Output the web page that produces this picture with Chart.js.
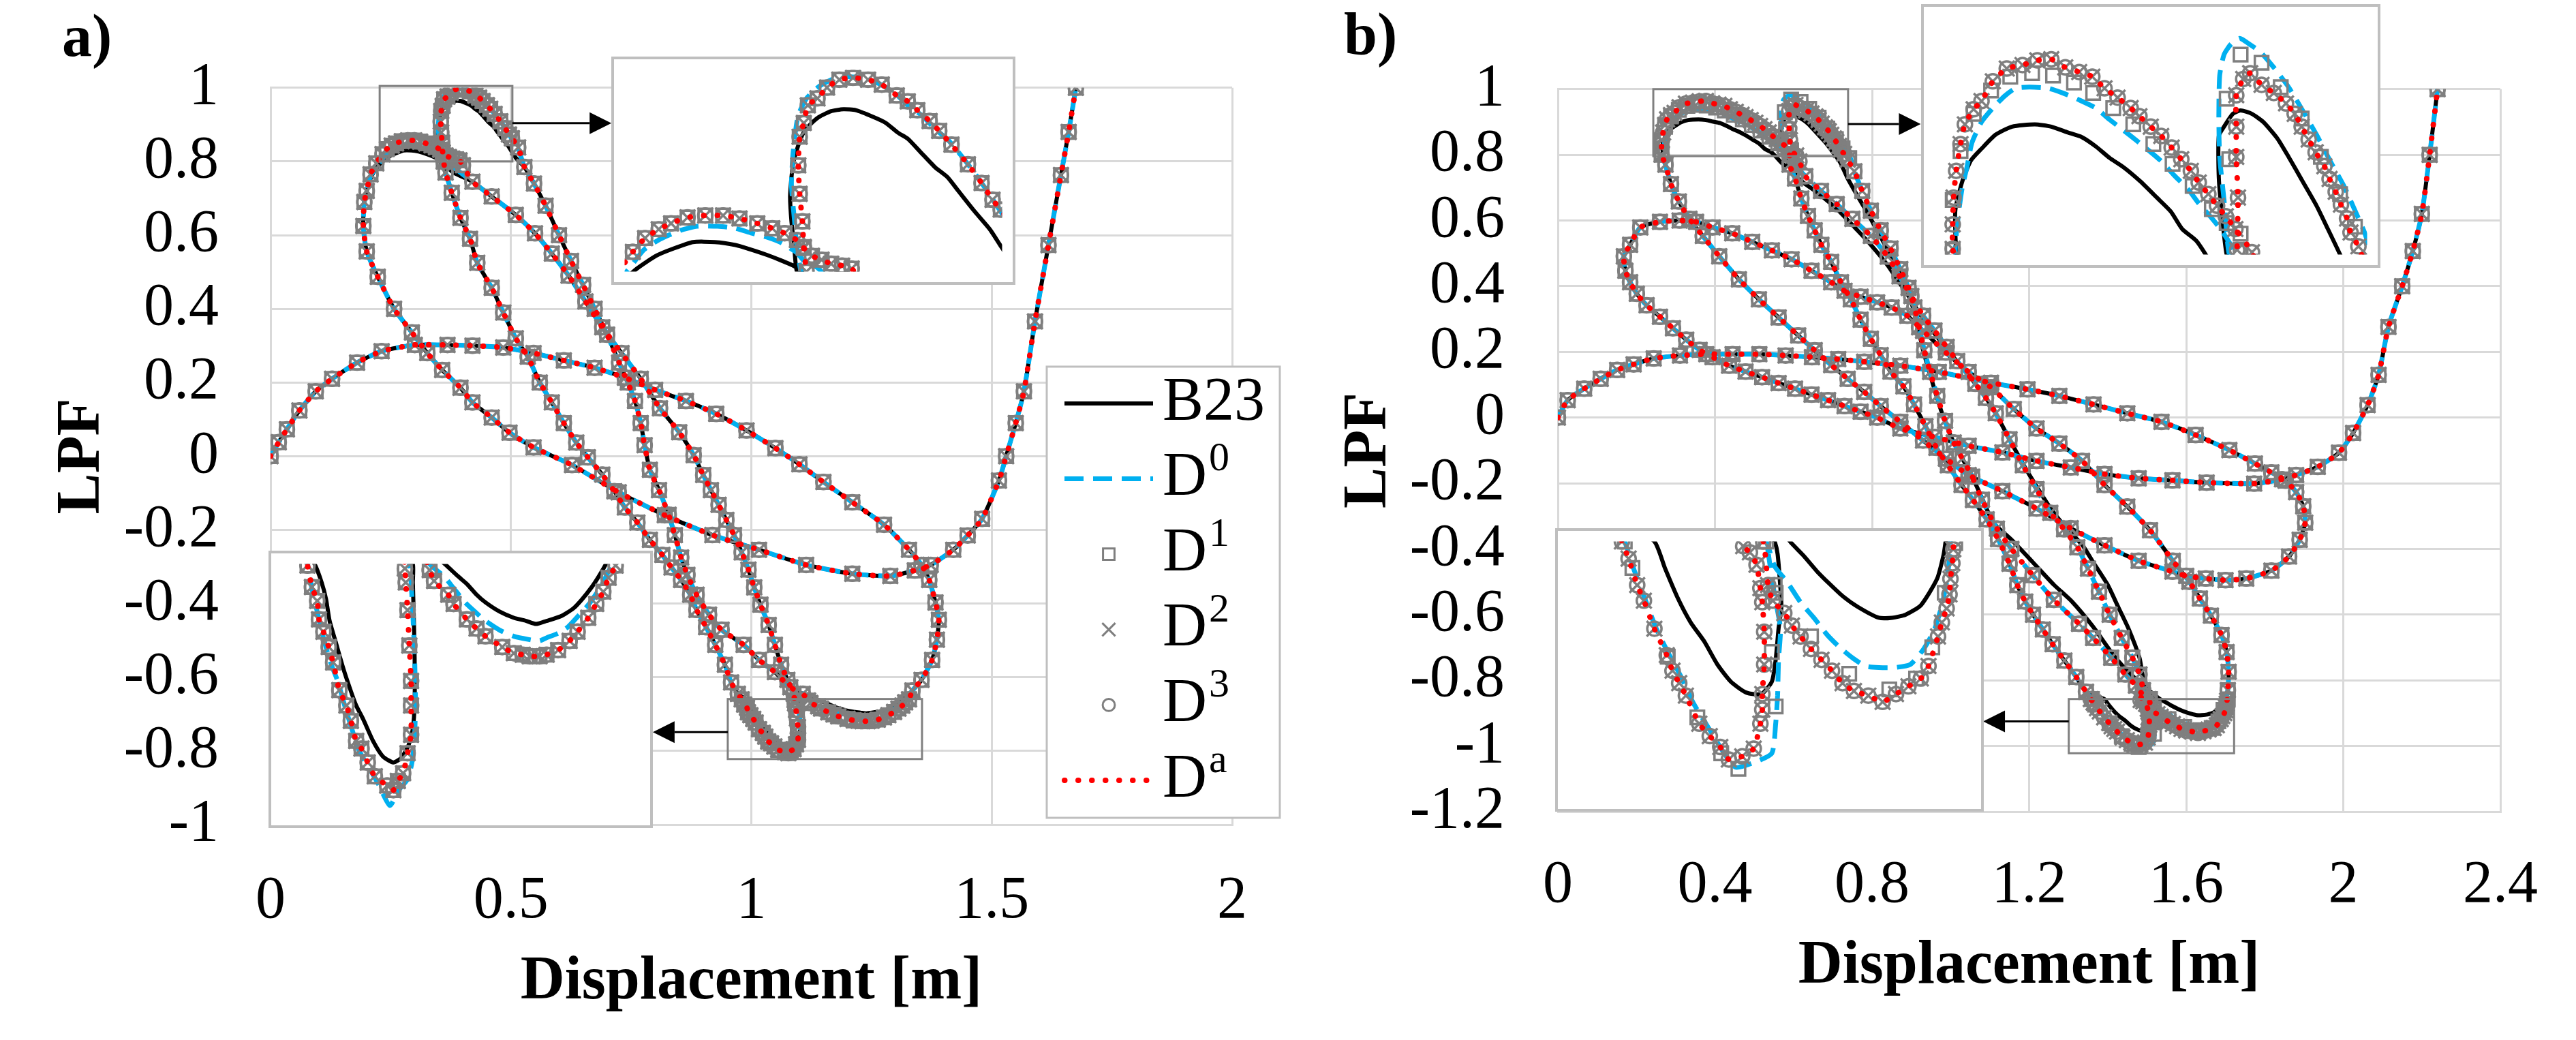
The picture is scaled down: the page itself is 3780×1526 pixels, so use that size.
<!DOCTYPE html>
<html>
<head>
<meta charset="utf-8">
<title>LPF - displacement</title>
<script src="https://cdn.jsdelivr.net/npm/chart.js@4.4.1/dist/chart.umd.min.js"></script>
<style>
  html, body { margin: 0; padding: 0; background: #fff; }
  #page { position: relative; width: 3780px; height: 1526px; overflow: hidden; background: #fff; }
  canvas { position: absolute; }
</style>
</head>
<body>
<div id="page">
  <canvas id="mainA" width="1890" height="1526" style="left:0;top:0"></canvas>
  <canvas id="mainB" width="1890" height="1526" style="left:1890px;top:0"></canvas>
  <canvas id="insetA1" width="593" height="335" style="left:897px;top:83px"></canvas>
  <canvas id="insetA2" width="564" height="407" style="left:394px;top:808px"></canvas>
  <canvas id="insetB1" width="674" height="387" style="left:2819px;top:6px"></canvas>
  <canvas id="insetB2" width="629" height="416" style="left:2282px;top:775px"></canvas>
</div>
<script>
// ---- tick labels ----
const aXTicks = ['0', '0.5', '1', '1.5', '2'];
const aYTicks = ['-1', '-0.8', '-0.6', '-0.4', '-0.2', '0', '0.2', '0.4', '0.6', '0.8', '1'];
const bXTicks = ['0', '0.4', '0.8', '1.2', '1.6', '2', '2.4'];
const bYTicks = ['-1.2', '-1', '-0.8', '-0.6', '-0.4', '-0.2', '0', '0.2', '0.4', '0.6', '0.8', '1'];

// ---- panel a) path pieces [displacement, LPF], in path order ----
// shared by all series
const aRise = [[0,0],[0.017,0.038],[0.034,0.073],[0.06,0.124],[0.094,0.176],[0.128,0.21],[0.18,0.254],[0.231,0.285],[0.3,0.302],[0.368,0.302],[0.42,0.3],[0.484,0.295],[0.547,0.28],[0.61,0.26],[0.674,0.24],[0.737,0.213],[0.8,0.18],[0.864,0.15],[0.927,0.115],[0.99,0.07],[1.05,0.022],[1.1,-0.022],[1.15,-0.07],[1.21,-0.125],[1.276,-0.186],[1.328,-0.254],[1.354,-0.295],[1.37,-0.336],[1.383,-0.397],[1.39,-0.444],[1.386,-0.498],[1.376,-0.553],[1.354,-0.607],[1.335,-0.636]];
const aClimb = [[1.107,-0.645],[1.081,-0.627],[1.049,-0.586],[1.016,-0.553],[0.984,-0.512],[0.938,-0.471],[0.912,-0.43],[0.886,-0.376],[0.867,-0.322],[0.854,-0.275],[0.841,-0.214],[0.828,-0.159],[0.808,-0.092],[0.789,-0.037],[0.778,0.03],[0.77,0.09],[0.758,0.15],[0.743,0.2],[0.725,0.254],[0.7,0.33],[0.674,0.4],[0.65,0.465],[0.625,0.53],[0.6,0.6],[0.572,0.68],[0.548,0.74],[0.528,0.785]];
const aDrop = [[0.364,0.77],[0.377,0.715],[0.395,0.647],[0.415,0.59],[0.43,0.525],[0.46,0.457],[0.484,0.39],[0.51,0.32],[0.535,0.27],[0.56,0.2],[0.585,0.146],[0.61,0.09],[0.636,0.037],[0.66,-0.003],[0.69,-0.05],[0.715,-0.095],[0.737,-0.139],[0.763,-0.18],[0.789,-0.227],[0.815,-0.268],[0.834,-0.302],[0.854,-0.336],[0.873,-0.376],[0.886,-0.417],[0.906,-0.464],[0.925,-0.512],[0.945,-0.566],[0.958,-0.614],[0.972,-0.645]];
const aBack = [[1.088,-0.645],[1.075,-0.607],[1.062,-0.566],[1.049,-0.512],[1.036,-0.458],[1.019,-0.403],[1.006,-0.356],[0.994,-0.308],[0.98,-0.261],[0.964,-0.214],[0.948,-0.173],[0.932,-0.132],[0.916,-0.092],[0.9,-0.051],[0.88,0.003],[0.85,0.065],[0.81,0.13],[0.77,0.21],[0.73,0.28],[0.69,0.35],[0.655,0.42],[0.62,0.49],[0.585,0.55],[0.55,0.605],[0.51,0.655],[0.46,0.705],[0.42,0.745]];
const aTail = [[0.2,0.72],[0.195,0.69],[0.193,0.625],[0.2,0.556],[0.223,0.487],[0.257,0.4],[0.294,0.336],[0.326,0.28],[0.357,0.234],[0.395,0.186],[0.42,0.146],[0.46,0.105],[0.497,0.064],[0.547,0.024],[0.627,-0.024],[0.724,-0.098],[0.82,-0.16],[0.919,-0.214],[1.016,-0.254],[1.114,-0.295],[1.21,-0.319],[1.289,-0.325],[1.34,-0.31],[1.373,-0.295],[1.42,-0.254],[1.45,-0.215],[1.48,-0.17],[1.515,-0.066],[1.53,0],[1.55,0.09],[1.567,0.176],[1.59,0.366],[1.618,0.573],[1.644,0.763],[1.66,0.88],[1.675,1]];
// trough near 1.23 / -0.7
const aUB23 = [[1.317,-0.659],[1.309,-0.667],[1.301,-0.674],[1.29,-0.682],[1.28,-0.688],[1.266,-0.693],[1.25,-0.696],[1.238,-0.698],[1.227,-0.696],[1.213,-0.694],[1.197,-0.69],[1.181,-0.684],[1.171,-0.679],[1.16,-0.672],[1.15,-0.667],[1.135,-0.659]];
const aUD0 = [[1.324,-0.659],[1.319,-0.665],[1.311,-0.674],[1.298,-0.685],[1.287,-0.692],[1.274,-0.7],[1.263,-0.704],[1.25,-0.707],[1.242,-0.709],[1.229,-0.708],[1.213,-0.706],[1.197,-0.702],[1.181,-0.696],[1.171,-0.691],[1.158,-0.684],[1.144,-0.674],[1.134,-0.667],[1.118,-0.659]];
const aUDm = [[1.328,-0.66],[1.32,-0.668],[1.314,-0.677],[1.306,-0.685],[1.297,-0.694],[1.285,-0.703],[1.276,-0.709],[1.263,-0.715],[1.25,-0.718],[1.242,-0.719],[1.231,-0.719],[1.223,-0.718],[1.213,-0.717],[1.2,-0.713],[1.181,-0.706],[1.171,-0.701],[1.16,-0.695],[1.145,-0.685],[1.139,-0.679],[1.123,-0.67],[1.118,-0.663]];
// peak near 0.39 / 0.98
const aPkB23 = [[0.51,0.81],[0.502,0.826],[0.494,0.843],[0.483,0.861],[0.471,0.882],[0.463,0.896],[0.454,0.906],[0.443,0.922],[0.434,0.935],[0.427,0.941],[0.418,0.951],[0.409,0.957],[0.396,0.964],[0.387,0.965],[0.378,0.963],[0.369,0.957],[0.361,0.947],[0.357,0.939],[0.353,0.924],[0.35,0.908],[0.348,0.877],[0.349,0.851],[0.351,0.826],[0.353,0.8]];
const aPkD0 = [[0.515,0.835],[0.502,0.861],[0.492,0.882],[0.483,0.9],[0.473,0.918],[0.464,0.933],[0.454,0.945],[0.444,0.959],[0.434,0.969],[0.424,0.982],[0.413,0.991],[0.4,0.997],[0.389,0.998],[0.38,0.996],[0.369,0.988],[0.36,0.976],[0.354,0.959],[0.352,0.943],[0.35,0.918],[0.349,0.888],[0.351,0.855],[0.353,0.825],[0.356,0.8]];
const aPkDm = [[0.515,0.838],[0.502,0.863],[0.496,0.873],[0.488,0.89],[0.478,0.909],[0.466,0.929],[0.457,0.943],[0.45,0.953],[0.441,0.964],[0.434,0.973],[0.426,0.979],[0.415,0.99],[0.405,0.995],[0.394,0.997],[0.384,0.995],[0.375,0.987],[0.368,0.976],[0.361,0.969],[0.358,0.951],[0.355,0.937],[0.354,0.908],[0.355,0.879],[0.357,0.851],[0.358,0.825],[0.36,0.8]];
// trough near 1.07 / -0.8
const aVB23 = [[0.988,-0.659],[0.996,-0.671],[1.001,-0.682],[1.005,-0.696],[1.012,-0.71],[1.02,-0.726],[1.028,-0.74],[1.035,-0.751],[1.043,-0.76],[1.054,-0.774],[1.065,-0.784],[1.077,-0.788],[1.086,-0.785],[1.094,-0.777],[1.099,-0.766],[1.101,-0.749],[1.101,-0.72],[1.1,-0.692],[1.099,-0.671],[1.099,-0.659]];
const aVD0 = [[0.98,-0.659],[0.985,-0.675],[0.991,-0.69],[0.998,-0.707],[1.006,-0.723],[1.014,-0.735],[1.022,-0.751],[1.03,-0.766],[1.038,-0.78],[1.049,-0.791],[1.06,-0.802],[1.073,-0.816],[1.083,-0.806],[1.093,-0.799],[1.098,-0.788],[1.101,-0.77],[1.102,-0.749],[1.101,-0.72],[1.099,-0.692],[1.097,-0.671],[1.095,-0.659]];
const aVDm = [[0.98,-0.66],[0.985,-0.674],[0.991,-0.683],[0.993,-0.695],[0.998,-0.703],[1.004,-0.713],[1.009,-0.723],[1.016,-0.741],[1.024,-0.751],[1.029,-0.761],[1.035,-0.774],[1.041,-0.779],[1.048,-0.788],[1.056,-0.797],[1.07,-0.803],[1.077,-0.806],[1.082,-0.8],[1.088,-0.795],[1.093,-0.782],[1.097,-0.77],[1.097,-0.751],[1.097,-0.735],[1.095,-0.712],[1.093,-0.689],[1.091,-0.671],[1.09,-0.662]];
// bump near 0.29 / 0.85
const aBumpB23 = [[0.38,0.77],[0.353,0.804],[0.342,0.811],[0.331,0.817],[0.318,0.823],[0.308,0.827],[0.293,0.83],[0.277,0.83],[0.262,0.823],[0.25,0.816],[0.236,0.803],[0.222,0.785],[0.21,0.76]];
const aBumpD0 = [[0.385,0.78],[0.368,0.804],[0.36,0.808],[0.353,0.819],[0.342,0.829],[0.331,0.835],[0.32,0.839],[0.308,0.844],[0.295,0.846],[0.28,0.846],[0.268,0.842],[0.253,0.833],[0.241,0.822],[0.232,0.806],[0.22,0.785],[0.208,0.76]];
const aBumpDm = [[0.4,0.79],[0.393,0.803],[0.386,0.806],[0.378,0.808],[0.371,0.812],[0.364,0.816],[0.358,0.824],[0.353,0.832],[0.344,0.839],[0.335,0.844],[0.324,0.849],[0.311,0.854],[0.299,0.857],[0.286,0.857],[0.273,0.855],[0.261,0.849],[0.252,0.843],[0.242,0.834],[0.233,0.82],[0.22,0.795],[0.208,0.765]];

// ---- panel b) path pieces ----
const bOut = [[0,0],[0.025,0.053],[0.067,0.088],[0.109,0.118],[0.151,0.145],[0.193,0.162],[0.244,0.18],[0.311,0.189],[0.378,0.193],[0.445,0.193],[0.513,0.193],[0.58,0.189],[0.647,0.184],[0.714,0.178],[0.78,0.17],[0.872,0.158],[0.97,0.139],[1.103,0.106],[1.196,0.086],[1.277,0.066],[1.364,0.04],[1.45,0.013],[1.537,-0.013],[1.624,-0.053],[1.71,-0.099],[1.775,-0.14],[1.817,-0.167],[1.853,-0.192],[1.88,-0.227],[1.898,-0.27],[1.903,-0.32],[1.889,-0.372],[1.862,-0.423],[1.817,-0.466],[1.753,-0.49],[1.7,-0.495],[1.65,-0.49],[1.6,-0.482],[1.565,-0.469],[1.479,-0.436],[1.392,-0.389],[1.306,-0.337],[1.219,-0.277],[1.132,-0.224],[1.046,-0.175],[0.988,-0.125],[0.93,-0.07],[0.872,-0.013],[0.822,0.035],[0.78,0.078],[0.738,0.118],[0.696,0.16],[0.654,0.205],[0.612,0.25],[0.562,0.305],[0.512,0.36],[0.461,0.421],[0.411,0.491],[0.369,0.553],[0.335,0.605],[0.308,0.658],[0.288,0.711],[0.274,0.77]];
const bDown = [[0.63,0.735],[0.67,0.69],[0.71,0.65],[0.75,0.605],[0.797,0.553],[0.84,0.49],[0.87,0.43],[0.9,0.37],[0.93,0.31],[0.959,0.265],[0.99,0.215],[1.017,0.172],[1.063,0.103],[1.09,0.06],[1.115,0.013],[1.15,-0.066],[1.184,-0.145],[1.219,-0.218],[1.254,-0.29],[1.289,-0.34],[1.323,-0.395],[1.35,-0.46],[1.378,-0.53],[1.405,-0.6],[1.436,-0.671],[1.463,-0.731],[1.481,-0.782],[1.49,-0.83]];
const bDownB23 = [[0.6,0.76],[0.612,0.728],[0.662,0.684],[0.713,0.632],[0.763,0.57],[0.797,0.526],[0.839,0.465],[0.864,0.421],[0.893,0.37],[0.925,0.31],[0.955,0.262],[0.99,0.21],[1.017,0.17],[1.063,0.103],[1.09,0.06],[1.115,0.013],[1.15,-0.066],[1.184,-0.14],[1.219,-0.21],[1.254,-0.275],[1.29,-0.33],[1.336,-0.389],[1.363,-0.44],[1.4,-0.509],[1.427,-0.577],[1.454,-0.645],[1.481,-0.731],[1.49,-0.79],[1.5,-0.83]];
const bUp = [[1.345,-0.835],[1.32,-0.79],[1.29,-0.74],[1.26,-0.69],[1.235,-0.645],[1.21,-0.6],[1.19,-0.56],[1.17,-0.51],[1.15,-0.445],[1.121,-0.37],[1.092,-0.31],[1.057,-0.251],[1.028,-0.205],[0.993,-0.145],[0.964,-0.092],[0.936,-0.026],[0.907,0.04],[0.88,0.095],[0.847,0.14],[0.822,0.19],[0.797,0.24],[0.771,0.298],[0.746,0.36],[0.721,0.412],[0.696,0.474],[0.671,0.526],[0.654,0.57],[0.637,0.614],[0.62,0.667],[0.604,0.728],[0.59,0.77]];
const bFall = [[0.755,0.75],[0.775,0.69],[0.797,0.63],[0.822,0.57],[0.847,0.515],[0.872,0.452],[0.893,0.395],[0.908,0.335],[0.92,0.275],[0.933,0.205],[0.948,0.139],[0.966,0.066],[0.986,-0.01],[1.008,-0.076],[1.03,-0.125],[1.055,-0.18],[1.08,-0.25],[1.118,-0.338],[1.155,-0.4],[1.209,-0.48],[1.263,-0.555],[1.327,-0.628],[1.363,-0.671],[1.409,-0.731],[1.445,-0.782],[1.472,-0.816],[1.49,-0.845]];
const bFallB23 = [[0.738,0.728],[0.763,0.675],[0.79,0.62],[0.815,0.565],[0.84,0.51],[0.865,0.452],[0.888,0.395],[0.904,0.335],[0.917,0.275],[0.93,0.205],[0.946,0.139],[0.964,0.066],[0.985,-0.01],[1.008,-0.076],[1.03,-0.125],[1.055,-0.18],[1.08,-0.245],[1.109,-0.32],[1.155,-0.372],[1.209,-0.44],[1.263,-0.509],[1.309,-0.56],[1.363,-0.637],[1.409,-0.714],[1.445,-0.765],[1.49,-0.816],[1.52,-0.845]];
const bTail = [[1.706,-0.83],[1.708,-0.774],[1.703,-0.714],[1.69,-0.662],[1.663,-0.603],[1.635,-0.551],[1.608,-0.5],[1.566,-0.436],[1.508,-0.343],[1.45,-0.271],[1.392,-0.205],[1.335,-0.132],[1.277,-0.079],[1.219,-0.033],[1.161,0.026],[1.103,0.092],[1.046,0.139],[0.988,0.198],[0.93,0.264],[0.89,0.31],[0.85,0.335],[0.813,0.351],[0.771,0.368],[0.73,0.386],[0.696,0.412],[0.646,0.447],[0.595,0.482],[0.545,0.509],[0.495,0.535],[0.444,0.561],[0.394,0.579],[0.352,0.596],[0.31,0.6],[0.26,0.596],[0.21,0.579],[0.184,0.526],[0.168,0.491],[0.172,0.447],[0.184,0.412],[0.201,0.377],[0.226,0.342],[0.26,0.307],[0.293,0.272],[0.327,0.237],[0.361,0.206],[0.394,0.184],[0.436,0.158],[0.478,0.14],[0.52,0.123],[0.562,0.105],[0.604,0.088],[0.646,0.07],[0.688,0.053],[0.73,0.035],[0.771,0.018],[0.813,0],[0.872,-0.033],[0.959,-0.059],[1.046,-0.086],[1.132,-0.106],[1.219,-0.132],[1.306,-0.152],[1.392,-0.172],[1.479,-0.185],[1.565,-0.191],[1.652,-0.198],[1.773,-0.201],[1.844,-0.188],[1.88,-0.175],[1.935,-0.15],[1.989,-0.107],[2.025,-0.047],[2.062,0.038],[2.09,0.13],[2.115,0.276],[2.15,0.4],[2.177,0.507],[2.2,0.62],[2.22,0.8],[2.24,1]];
// bump near 0.36 / 0.95
const bBumpB23 = [[0.268,0.8],[0.267,0.834],[0.275,0.859],[0.285,0.877],[0.297,0.887],[0.313,0.899],[0.332,0.906],[0.358,0.908],[0.377,0.906],[0.396,0.901],[0.412,0.897],[0.428,0.889],[0.444,0.879],[0.46,0.871],[0.479,0.859],[0.498,0.845],[0.514,0.833],[0.527,0.818],[0.543,0.808],[0.554,0.796],[0.575,0.77]];
const bBumpD0 = [[0.267,0.799],[0.27,0.827],[0.275,0.854],[0.28,0.87],[0.286,0.892],[0.297,0.91],[0.31,0.922],[0.323,0.932],[0.336,0.939],[0.352,0.94],[0.374,0.939],[0.39,0.935],[0.409,0.929],[0.428,0.922],[0.444,0.912],[0.463,0.901],[0.483,0.889],[0.502,0.877],[0.518,0.864],[0.534,0.852],[0.546,0.84],[0.559,0.829],[0.572,0.817],[0.585,0.801],[0.595,0.78]];
const bBumpD1 = [[0.264,0.8],[0.264,0.843],[0.273,0.885],[0.288,0.917],[0.308,0.937],[0.33,0.949],[0.355,0.952],[0.379,0.95],[0.403,0.944],[0.425,0.935],[0.448,0.922],[0.471,0.908],[0.494,0.891],[0.516,0.874],[0.539,0.855],[0.561,0.835],[0.578,0.823],[0.594,0.814],[0.605,0.79]];
const bBumpDm = [[0.264,0.801],[0.264,0.822],[0.265,0.845],[0.268,0.868],[0.273,0.891],[0.278,0.908],[0.288,0.921],[0.297,0.928],[0.31,0.945],[0.326,0.956],[0.344,0.959],[0.361,0.963],[0.377,0.964],[0.393,0.957],[0.409,0.953],[0.424,0.949],[0.438,0.939],[0.453,0.931],[0.468,0.922],[0.478,0.915],[0.491,0.906],[0.503,0.898],[0.515,0.888],[0.526,0.878],[0.537,0.868],[0.546,0.858],[0.557,0.848],[0.567,0.838],[0.577,0.829],[0.588,0.818],[0.607,0.798],[0.615,0.78]];
// trough near 1.47 / -1.0
const bVB23 = [[1.517,-0.857],[1.52,-0.865],[1.522,-0.879],[1.524,-0.899],[1.521,-0.913],[1.518,-0.933],[1.514,-0.947],[1.503,-0.955],[1.487,-0.954],[1.471,-0.947],[1.457,-0.936],[1.443,-0.921],[1.429,-0.909],[1.416,-0.894],[1.402,-0.874],[1.391,-0.857]];
const bVD0 = [[1.508,-0.857],[1.512,-0.872],[1.517,-0.892],[1.523,-0.913],[1.521,-0.933],[1.52,-0.956],[1.518,-0.974],[1.514,-0.993],[1.495,-0.999],[1.476,-1.002],[1.462,-0.991],[1.449,-0.978],[1.432,-0.961],[1.419,-0.944],[1.405,-0.928],[1.393,-0.913],[1.38,-0.892],[1.369,-0.874],[1.36,-0.857]];
const bVD1 = [[1.505,-0.857],[1.517,-0.885],[1.514,-0.928],[1.518,-0.963],[1.479,-1.003],[1.461,-0.993],[1.436,-0.97],[1.405,-0.931],[1.368,-0.874],[1.36,-0.857]];
const bVDm = [[1.484,-0.86],[1.491,-0.864],[1.498,-0.872],[1.502,-0.887],[1.504,-0.896],[1.506,-0.915],[1.506,-0.936],[1.504,-0.955],[1.504,-0.965],[1.502,-0.974],[1.495,-0.99],[1.483,-0.995],[1.469,-0.997],[1.46,-0.989],[1.449,-0.982],[1.438,-0.974],[1.424,-0.956],[1.417,-0.948],[1.41,-0.94],[1.404,-0.93],[1.391,-0.913],[1.38,-0.895],[1.373,-0.885],[1.364,-0.868],[1.357,-0.857]];
// peak near 0.6 / 0.97
const bPkB23 = [[0.578,0.796],[0.573,0.827],[0.569,0.862],[0.569,0.898],[0.575,0.906],[0.585,0.917],[0.594,0.92],[0.607,0.917],[0.62,0.91],[0.636,0.896],[0.649,0.88],[0.665,0.859],[0.681,0.838],[0.694,0.818],[0.708,0.796],[0.72,0.775]];
const bPkD0 = [[0.58,0.8],[0.575,0.843],[0.57,0.88],[0.569,0.915],[0.57,0.95],[0.575,0.968],[0.583,0.977],[0.593,0.982],[0.604,0.977],[0.617,0.97],[0.633,0.956],[0.649,0.94],[0.665,0.92],[0.681,0.899],[0.697,0.876],[0.713,0.854],[0.725,0.834],[0.737,0.813],[0.745,0.79]];
const bPkD1 = [[0.594,0.8],[0.581,0.878],[0.578,0.93],[0.594,0.968],[0.618,0.961],[0.64,0.94],[0.664,0.913],[0.686,0.88],[0.708,0.848],[0.725,0.82],[0.742,0.79]];
const bPkDm = [[0.59,0.8],[0.591,0.845],[0.589,0.88],[0.589,0.906],[0.589,0.933],[0.597,0.947],[0.605,0.952],[0.618,0.942],[0.632,0.935],[0.646,0.926],[0.656,0.917],[0.664,0.906],[0.672,0.895],[0.68,0.884],[0.69,0.872],[0.696,0.861],[0.703,0.85],[0.709,0.839],[0.716,0.827],[0.72,0.815],[0.729,0.803],[0.738,0.785]];
// trough near 1.63 / -0.95
const bUB23 = [[1.533,-0.857],[1.547,-0.866],[1.561,-0.876],[1.574,-0.884],[1.588,-0.892],[1.604,-0.899],[1.626,-0.906],[1.64,-0.906],[1.654,-0.904],[1.67,-0.898],[1.687,-0.881],[1.694,-0.865],[1.696,-0.857]];
const bUD0 = [[1.508,-0.857],[1.517,-0.873],[1.53,-0.883],[1.544,-0.896],[1.558,-0.906],[1.572,-0.917],[1.585,-0.925],[1.599,-0.932],[1.612,-0.937],[1.626,-0.938],[1.642,-0.938],[1.659,-0.936],[1.673,-0.926],[1.684,-0.914],[1.692,-0.898],[1.697,-0.883],[1.7,-0.868],[1.701,-0.857]];
const bUD1 = [[1.508,-0.857],[1.518,-0.89],[1.555,-0.918],[1.595,-0.942],[1.637,-0.952],[1.665,-0.945],[1.682,-0.925],[1.695,-0.89],[1.706,-0.858]];
const bUDm = [[1.505,-0.857],[1.51,-0.885],[1.515,-0.895],[1.527,-0.903],[1.535,-0.911],[1.544,-0.918],[1.555,-0.926],[1.566,-0.933],[1.577,-0.94],[1.588,-0.948],[1.6,-0.953],[1.615,-0.956],[1.63,-0.96],[1.644,-0.955],[1.657,-0.95],[1.67,-0.945],[1.678,-0.937],[1.688,-0.918],[1.692,-0.909],[1.697,-0.9],[1.7,-0.891],[1.701,-0.881],[1.703,-0.871],[1.704,-0.862]];

// zoom windows [xmin, xmax, ymin, ymax]: boxes on the main plots and ranges of the insets
const aZoomTop = [0.227, 0.503, 0.8, 1.005];
const aZoomLow = [0.951, 1.355, -0.822, -0.659];
const bZoomTop = [0.243, 0.739, 0.796, 1.0];
const bZoomLow = [1.301, 1.722, -1.022, -0.857];

const FONT = '"Liberation Serif", "Times New Roman", serif';
const GREY = '#7f7f7f';
const NAMES = ['B23', 'D0', 'D1', 'D2', 'D3', 'Da'];
const STYLE = {
  B23: {line: true, color: '#000000', width: 6, dash: []},
  D0: {line: true, color: '#00b0f0', width: 7, dash: [28, 14]},
  D1: {marker: 'rect', r: 14},
  D2: {marker: 'crossRot', r: 16},
  D3: {marker: 'circle', r: 10.5},
  Da: {line: true, color: '#ff0000', width: 8, dash: [0.5, 19.5], cap: 'round'}
};
const LEGEND_TEXT = {B23: ['B23', ''], D0: ['D', '0'], D1: ['D', '1'], D2: ['D', '2'], D3: ['D', '3'], Da: ['D', 'a']};

const seq = (...parts) => parts.flat().map(([x, y]) => ({x, y}));

function pathsA() {
  const dm = () => seq(aRise, aUDm, aClimb, aPkDm, aDrop, aVDm, aBack, aBumpDm, aTail);
  return {
    B23: seq(aRise, aUB23, aClimb, aPkB23, aDrop, aVB23, aBack, aBumpB23, aTail),
    D0: seq(aRise, aUD0, aClimb, aPkD0, aDrop, aVD0, aBack, aBumpD0, aTail),
    D1: dm(), D2: dm(), D3: dm(), Da: dm()
  };
}
function pathsB() {
  const dm = () => seq(bOut, bBumpDm, bDown, bVDm, bUp, bPkDm, bFall, bUDm, bTail);
  return {
    B23: seq(bOut, bBumpB23, bDownB23, bVB23, bUp, bPkB23, bFallB23, bUB23, bTail),
    D0: seq(bOut, bBumpD0, bDown, bVD0, bUp, bPkD0, bFall, bUD0, bTail),
    D1: seq(bOut, bBumpD1, bDown, bVD1, bUp, bPkD1, bFall, bUD1, bTail),
    D2: dm(), D3: dm(), Da: dm()
  };
}

function makeSets(paths, inset) {
  return NAMES.map((name, i) => {
    const st = STYLE[name];
    const ds = {label: name, data: paths[name], order: 6 - i};
    if (inset) ds.clip = 0;
    if (st.line) {
      Object.assign(ds, {showLine: true, fill: false, borderColor: st.color, borderWidth: st.width,
        borderDash: st.dash, borderCapStyle: st.cap || 'butt', pointRadius: 0});
    } else {
      Object.assign(ds, {showLine: false, pointStyle: st.marker, pointRadius: st.r,
        pointBorderColor: GREY, borderColor: GREY, pointBackgroundColor: 'rgba(0,0,0,0)',
        backgroundColor: 'rgba(0,0,0,0)', pointBorderWidth: 3.5});
    }
    return ds;
  });
}

function drawMarker(ctx, style, r, x, y) {
  ctx.beginPath();
  if (style === 'rect') {
    const s = r * Math.SQRT1_2;
    ctx.rect(x - s, y - s, 2 * s, 2 * s);
  } else if (style === 'circle') {
    ctx.arc(x, y, r, 0, Math.PI * 2);
  } else {
    const s = r * Math.SQRT1_2;
    ctx.moveTo(x - s, y - s); ctx.lineTo(x + s, y + s);
    ctx.moveTo(x + s, y - s); ctx.lineTo(x - s, y + s);
  }
  ctx.stroke();
}

function drawLegend(ctx, L) {
  ctx.fillStyle = '#fff';
  ctx.fillRect(L.x, L.y, L.w, L.h);
  ctx.strokeStyle = '#bfbfbf';
  ctx.lineWidth = 3;
  ctx.strokeRect(L.x, L.y, L.w, L.h);
  NAMES.forEach((name, i) => {
    const st = STYLE[name];
    const cy = L.firstY + i * L.step;
    if (st.line) {
      ctx.save();
      ctx.strokeStyle = st.color;
      ctx.lineWidth = st.width;
      ctx.setLineDash(st.dash);
      ctx.lineCap = st.cap || 'butt';
      ctx.beginPath();
      ctx.moveTo(L.symX0, cy);
      ctx.lineTo(L.symX1, cy);
      ctx.stroke();
      ctx.restore();
    } else {
      ctx.strokeStyle = GREY;
      ctx.lineWidth = 3;
      drawMarker(ctx, st.marker, st.r * 0.85, (L.symX0 + L.symX1) / 2, cy);
    }
    const [base, sup] = LEGEND_TEXT[name];
    ctx.fillStyle = '#000';
    ctx.textBaseline = 'middle';
    ctx.font = `90px ${FONT}`;
    ctx.fillText(base, L.textX, cy);
    if (sup) {
      const w = ctx.measureText(base).width;
      ctx.font = `60px ${FONT}`;
      ctx.fillText(sup, L.textX + w + 3, cy - 28);
    }
  });
}

function arrow(ctx, x1, x2, y) {
  const dir = Math.sign(x2 - x1);
  const base = x2 - dir * 32;
  ctx.strokeStyle = '#000';
  ctx.lineWidth = 3;
  ctx.beginPath();
  ctx.moveTo(x1, y);
  ctx.lineTo(base, y);
  ctx.stroke();
  ctx.fillStyle = '#000';
  ctx.beginPath();
  ctx.moveTo(x2, y);
  ctx.lineTo(base, y - 16);
  ctx.lineTo(base, y + 16);
  ctx.closePath();
  ctx.fill();
}

// boxes, arrows, panel letter and legend on a main chart
const extras = {
  id: 'extras',
  afterDraw(chart, args, o) {
    const {ctx} = chart;
    const px = v => chart.scales.x.getPixelForValue(v);
    const py = v => chart.scales.y.getPixelForValue(v);
    ctx.save();
    ctx.strokeStyle = '#808080';
    ctx.lineWidth = 3;
    o.boxes.forEach(b => ctx.strokeRect(px(b[0]), py(b[3]), px(b[1]) - px(b[0]), py(b[2]) - py(b[3])));
    o.arrows.forEach(a => arrow(ctx, px(a[0]), px(a[1]), py(a[2])));
    ctx.fillStyle = '#000';
    ctx.font = `bold 88px ${FONT}`;
    ctx.textBaseline = 'alphabetic';
    ctx.fillText(o.letter[0], o.letter[1], o.letter[2]);
    if (o.legend) drawLegend(ctx, o.legend);
    ctx.restore();
  }
};

const insetFrame = {
  id: 'insetFrame',
  beforeDraw(chart) {
    const {ctx, width, height} = chart;
    ctx.save();
    ctx.fillStyle = '#fff';
    ctx.fillRect(0, 0, width, height);
    ctx.restore();
  },
  afterDraw(chart) {
    const {ctx, width, height} = chart;
    ctx.save();
    ctx.strokeStyle = '#bfbfbf';
    ctx.lineWidth = 4;
    ctx.strokeRect(2, 2, width - 4, height - 4);
    ctx.restore();
  }
};

function axis(labels, title, cfg, horiz) {
  const vals = labels.map(Number);
  return {
    type: 'linear',
    min: vals[0],
    max: vals[vals.length - 1],
    afterBuildTicks: s => { s.ticks = vals.map(v => ({value: v})); },
    afterFit: s => { if (horiz) s.height = cfg.xAxisH; else s.width = cfg.yAxisW; },
    grid: {color: '#d9d9d9', lineWidth: 3, drawTicks: false},
    border: {color: '#d9d9d9', width: 3},
    ticks: {
      color: '#000', font: {family: FONT, size: 88}, maxRotation: 0, autoSkip: false,
      padding: horiz ? cfg.xTickPad : cfg.yTickPad,
      callback: (v, i) => labels[i]
    },
    title: {
      display: true, text: title, color: '#000',
      font: {family: FONT, size: 90, weight: 'bold'},
      padding: horiz ? {top: 0, bottom: cfg.xTitlePad} : {top: cfg.yTitlePad, bottom: 0}
    }
  };
}

function mainChart(id, cfg) {
  return new Chart(document.getElementById(id), {
    type: 'scatter',
    data: {datasets: makeSets(cfg.paths, false)},
    options: {
      responsive: false, animation: false, devicePixelRatio: 1, events: [],
      layout: {padding: {left: 0, right: cfg.padRight, top: cfg.padTop, bottom: 0}},
      elements: {line: {tension: 0.2, capBezierPoints: false}},
      plugins: {legend: {display: false}, tooltip: {enabled: false}, extras: cfg.extras},
      scales: {
        x: axis(cfg.xTicks, 'Displacement [m]', cfg, true),
        y: axis(cfg.yTicks, 'LPF', cfg, false)
      }
    },
    plugins: [extras]
  });
}

function insetChart(id, paths, range, pad) {
  return new Chart(document.getElementById(id), {
    type: 'scatter',
    data: {datasets: makeSets(paths, true)},
    options: {
      responsive: false, animation: false, devicePixelRatio: 1, events: [],
      layout: {padding: pad},
      elements: {line: {tension: 0.2, capBezierPoints: false}},
      plugins: {legend: {display: false}, tooltip: {enabled: false}},
      scales: {
        x: {type: 'linear', display: false, min: range[0], max: range[1]},
        y: {type: 'linear', display: false, min: range[2], max: range[3]}
      }
    },
    plugins: [insetFrame]
  });
}

mainChart('mainA', {
  paths: pathsA(), xTicks: aXTicks, yTicks: aYTicks,
  padRight: 82, padTop: 80, xAxisH: 316, yAxisW: 397,
  xTickPad: 60, yTickPad: 76, xTitlePad: 30, yTitlePad: 68,
  extras: {
    boxes: [aZoomTop, aZoomLow],
    arrows: [[0.503, 0.709, 0.904], [0.951, 0.795, -0.749]],
    letter: ['a)', 91, 82],
    legend: {x: 1536, y: 538, w: 342, h: 662, firstY: 592, step: 110.6, symX0: 1562, symX1: 1692, textX: 1706}
  }
});

mainChart('mainB', {
  paths: pathsB(), xTicks: bXTicks, yTicks: bYTicks,
  padRight: 110, padTop: 71, xAxisH: 335, yAxisW: 396,
  xTickPad: 56, yTickPad: 78, xTitlePad: 53, yTitlePad: 66,
  extras: {
    boxes: [bZoomTop, bZoomLow],
    arrows: [[0.739, 0.924, 0.894], [1.301, 1.083, -0.925]],
    letter: ['b)', 82, 80]
  }
});

insetChart('insetA1', pathsA(), aZoomTop, {left: 2, right: 2, top: 2, bottom: 2});
insetChart('insetA2', pathsA(), aZoomLow, {left: 2, right: 2, top: 14, bottom: 2});
insetChart('insetB1', pathsB(), bZoomTop, {left: 2, right: 2, top: 2, bottom: 2});
insetChart('insetB2', pathsB(), bZoomLow, {left: 2, right: 2, top: 9, bottom: 2});
</script>
</body>
</html>
